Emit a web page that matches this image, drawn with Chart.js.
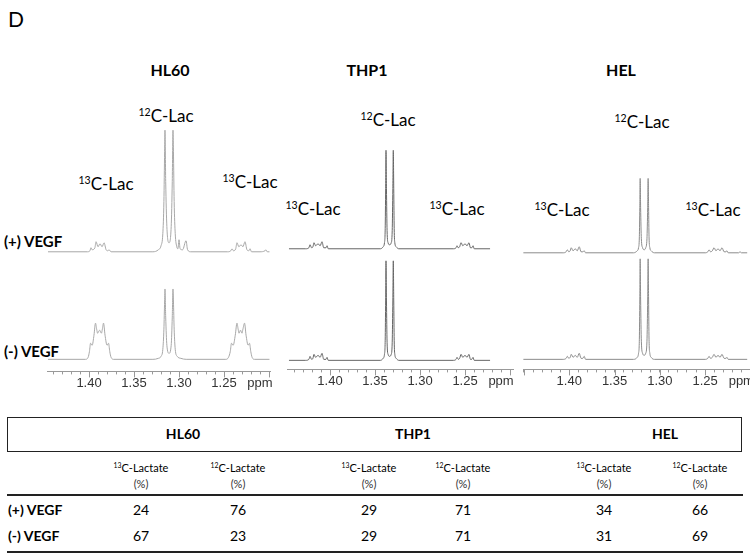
<!DOCTYPE html>
<html>
<head>
<meta charset="utf-8">
<script src="https://cdn.jsdelivr.net/npm/chart.js@4.4.0/dist/chart.umd.min.js"></script>
<style>
  body { margin: 0; width: 750px; height: 554px; position: relative; background: #fff; overflow: hidden;
         font-family: Lato, "Open Sans", sans-serif; color: #000; }
  .t { position: absolute; white-space: nowrap; line-height: 1; transform: translate(-50%, -50%); }
  .l { position: absolute; white-space: nowrap; line-height: 1; transform: translateY(-50%); }
  sup { font-size: 0.62em; vertical-align: 0.55em; line-height: 0; }
  canvas { position: absolute; }
  .title { font-weight: bold; font-size: 16px; }
  .lab { font-size: 17px; }
  .row { font-weight: bold; font-size: 15px; }
  .hline { position: absolute; left: 7px; width: 736px; background: #222; }
  .sub { font-size: 11px; }
  .pct { font-size: 11px; color: #333; }
  .num { font-size: 14px; }
</style>
</head>
<body>
<div class="l" style="left:8px;top:18px;font-size:21px;">D</div>

<div class="t title" style="left:170px;top:70px;">HL60</div>
<div class="t title" style="left:367px;top:70px;">THP1</div>
<div class="t title" style="left:621px;top:70px;">HEL</div>

<div class="t lab" style="left:166px;top:115px;"><sup>12</sup>C-Lac</div>
<div class="t lab" style="left:106px;top:183px;"><sup>13</sup>C-Lac</div>
<div class="t lab" style="left:250px;top:181px;"><sup>13</sup>C-Lac</div>
<div class="t lab" style="left:388px;top:119px;"><sup>12</sup>C-Lac</div>
<div class="t lab" style="left:313px;top:208px;"><sup>13</sup>C-Lac</div>
<div class="t lab" style="left:457px;top:208px;"><sup>13</sup>C-Lac</div>
<div class="t lab" style="left:642px;top:121px;"><sup>12</sup>C-Lac</div>
<div class="t lab" style="left:562px;top:209px;"><sup>13</sup>C-Lac</div>
<div class="t lab" style="left:713px;top:209px;"><sup>13</sup>C-Lac</div>

<div class="l row" style="left:4px;top:241px;">(+) VEGF</div>
<div class="l row" style="left:4px;top:351px;">(-) VEGF</div>

<canvas id="hl60" width="237" height="292" style="left:47px;top:100px;"></canvas>
<canvas id="thp1" width="240" height="292" style="left:287px;top:98px;"></canvas>
<canvas id="hel" width="241" height="292" style="left:523px;top:98px;"></canvas>

<div id="table"></div>

<script>
// NMR traces: [ppm, height above baseline in px]
const hl60Plus = [
  [1.4456, 0], [1.4020, 0], [1.3990, 1], [1.3978, 4], [1.3965, 2], [1.3935, 4], [1.3922, 10], [1.3900, 5],
  [1.3878, 8], [1.3855, 5], [1.3833, 9], [1.3810, 2], [1.3790, 1], [1.3778, 2], [1.3755, 0],
  [1.3290, 0], [1.3230, 2], [1.3200, 6], [1.3180, 18], [1.3168, 50], [1.3160, 100], [1.3156, 121],
  [1.3148, 70], [1.3135, 25], [1.3111, 9], [1.3087, 25], [1.3075, 70], [1.3067, 121], [1.3062, 100],
  [1.3054, 50], [1.3042, 18], [1.3025, 5], [1.3012, 3], [1.3000, 12], [1.2988, 3], [1.2960, 2],
  [1.2922, 11], [1.2905, 2], [1.2870, 0],
  [1.2460, 0], [1.2425, 1], [1.2411, 3], [1.2395, 1], [1.2370, 3], [1.2356, 9], [1.2335, 5], [1.2311, 7],
  [1.2290, 5], [1.2267, 10], [1.2245, 2], [1.2225, 1], [1.2211, 3], [1.2195, 0], [1.2100, 0],
  [1.2045, 1], [1.2033, 2], [1.2020, 0], [1.1995, 0]
];
const hl60Minus = [
  [1.4456, 0], [1.4040, 0], [1.4010, 2], [1.3995, 8], [1.3983, 16], [1.3965, 14], [1.3945, 24], [1.3928, 36],
  [1.3915, 30], [1.3905, 26], [1.3883, 29], [1.3862, 26], [1.3852, 30], [1.3839, 36], [1.3822, 24],
  [1.3800, 14], [1.3783, 16], [1.3770, 8], [1.3755, 2], [1.3725, 0],
  [1.3290, 0], [1.3230, 1], [1.3200, 3], [1.3180, 10], [1.3168, 30], [1.3160, 58], [1.3156, 70],
  [1.3148, 42], [1.3135, 14], [1.3111, 6], [1.3087, 14], [1.3075, 42], [1.3067, 70], [1.3062, 58],
  [1.3054, 30], [1.3042, 10], [1.3020, 3], [1.2980, 1], [1.2920, 0],
  [1.2480, 0], [1.2450, 2], [1.2430, 8], [1.2417, 16], [1.2398, 14], [1.2375, 24], [1.2356, 36],
  [1.2343, 30], [1.2333, 26], [1.2317, 29], [1.2300, 26], [1.2290, 30], [1.2272, 36], [1.2255, 24],
  [1.2232, 14], [1.2217, 16], [1.2203, 8], [1.2188, 2], [1.2160, 0], [1.1995, 0]
];
const thp1Plus = [
  [1.4456, 0], [1.4270, 0], [1.4235, 1], [1.4222, 4], [1.4205, 1], [1.4190, 2], [1.4178, 6], [1.4160, 3],
  [1.4133, 5], [1.4110, 3], [1.4089, 7], [1.4070, 1], [1.4045, 1], [1.4033, 3], [1.4020, 0],
  [1.3440, 0], [1.3410, 2], [1.3395, 6], [1.3387, 20], [1.3382, 60], [1.3378, 98], [1.3373, 60],
  [1.3366, 18], [1.3355, 6], [1.3338, 4], [1.3320, 6], [1.3309, 18], [1.3302, 60], [1.3297, 98],
  [1.3292, 60], [1.3287, 20], [1.3280, 6], [1.3265, 2], [1.3235, 0],
  [1.2630, 0], [1.2600, 1], [1.2589, 3], [1.2575, 1], [1.2560, 2], [1.2544, 6], [1.2525, 3], [1.2500, 5],
  [1.2478, 3], [1.2456, 6], [1.2440, 1], [1.2425, 1], [1.2411, 3], [1.2398, 0], [1.2222, 0]
];
const thp1Minus = [
  [1.4456, 0], [1.4270, 0], [1.4235, 1], [1.4222, 4], [1.4205, 1], [1.4190, 2], [1.4178, 6], [1.4160, 3],
  [1.4133, 5], [1.4110, 3], [1.4089, 7], [1.4070, 1], [1.4045, 1], [1.4033, 3], [1.4020, 0],
  [1.3440, 0], [1.3410, 2], [1.3395, 6], [1.3387, 20], [1.3382, 60], [1.3378, 99], [1.3373, 60],
  [1.3366, 18], [1.3355, 6], [1.3338, 4], [1.3320, 6], [1.3309, 18], [1.3302, 60], [1.3297, 99],
  [1.3292, 60], [1.3287, 20], [1.3280, 6], [1.3265, 2], [1.3235, 0],
  [1.2630, 0], [1.2600, 1], [1.2589, 3], [1.2575, 1], [1.2560, 2], [1.2544, 6], [1.2525, 3], [1.2500, 5],
  [1.2478, 3], [1.2456, 6], [1.2440, 1], [1.2425, 1], [1.2411, 3], [1.2398, 0], [1.2222, 0]
];
const helPlus = [
  [1.4507, 0], [1.4070, 0], [1.4035, 1], [1.4022, 3], [1.4005, 1], [1.3990, 2], [1.3978, 5], [1.3958, 2],
  [1.3934, 4], [1.3912, 2], [1.3890, 6], [1.3870, 1], [1.3850, 1], [1.3835, 2], [1.3820, 0],
  [1.3290, 0], [1.3250, 2], [1.3235, 5], [1.3226, 16], [1.3221, 45], [1.3217, 74], [1.3212, 45],
  [1.3204, 14], [1.3190, 5], [1.3173, 3], [1.3156, 5], [1.3142, 14], [1.3134, 45], [1.3129, 74],
  [1.3124, 45], [1.3119, 16], [1.3110, 5], [1.3095, 2], [1.3060, 0],
  [1.2500, 0], [1.2470, 1], [1.2456, 3], [1.2440, 1], [1.2420, 2], [1.2401, 5], [1.2380, 2], [1.2357, 4],
  [1.2335, 2], [1.2313, 5], [1.2290, 1], [1.2270, 1], [1.2258, 2], [1.2245, 0], [1.2130, 0],
  [1.2114, 1], [1.2098, 0], [1.2035, 0]
];
const helMinus = [
  [1.4507, 0], [1.4070, 0], [1.4035, 1], [1.4022, 3], [1.4005, 1], [1.3990, 2], [1.3978, 5], [1.3958, 2],
  [1.3934, 4], [1.3912, 2], [1.3890, 6], [1.3870, 1], [1.3850, 1], [1.3835, 3], [1.3820, 0],
  [1.3290, 0], [1.3250, 2], [1.3235, 6], [1.3226, 20], [1.3221, 60], [1.3217, 100], [1.3212, 60],
  [1.3204, 18], [1.3190, 6], [1.3173, 4], [1.3156, 6], [1.3142, 18], [1.3134, 60], [1.3129, 100],
  [1.3124, 60], [1.3119, 20], [1.3110, 6], [1.3095, 2], [1.3060, 0],
  [1.2500, 0], [1.2470, 1], [1.2456, 3], [1.2440, 1], [1.2420, 2], [1.2401, 5], [1.2380, 2], [1.2357, 4],
  [1.2335, 2], [1.2313, 5], [1.2290, 1], [1.2270, 1], [1.2258, 2], [1.2245, 0], [1.2035, 0]
];

// table values
const cellLines = ['HL60', 'THP1', 'HEL'];
const isotopes = ['13', '12', '13', '12', '13', '12'];
const plusVegf = [24, 76, 29, 71, 34, 66];
const minusVegf = [67, 23, 29, 71, 31, 69];

// longer marks at the labelled ppm ticks
const majorTicks = {
  id: 'majorTicks',
  afterDraw(chart) {
    const s = chart.scales.x, ctx = chart.ctx;
    ctx.save();
    ctx.strokeStyle = '#999';
    ctx.lineWidth = 1;
    s.ticks.forEach(t => {
      const k = Math.round(t.value * 100);
      if (k % 5 === 0) {
        const x = Math.round(s.getPixelForValue(t.value)) + 0.5;
        ctx.beginPath();
        ctx.moveTo(x, s.top);
        ctx.lineTo(x, s.top + 6);
        ctx.stroke();
      }
    });
    ctx.restore();
  }
};

function drawPanel(id, plus, minus, color, left, right, plusBase, minusBase) {
  const h = 270;
  new Chart(document.getElementById(id), {
    type: 'line',
    data: {
      datasets: [
        { data: plus.map(p => ({ x: p[0], y: p[1] })), yAxisID: 'yPlus' },
        { data: minus.map(p => ({ x: p[0], y: p[1] })), yAxisID: 'yMinus' }
      ]
    },
    options: {
      responsive: false,
      animation: false,
      layout: { padding: { left: 0, top: 0, bottom: 0, right: 14 } },
      elements: {
        line: { borderColor: color, borderWidth: 1, cubicInterpolationMode: 'monotone', fill: false },
        point: { radius: 0 }
      },
      plugins: { legend: { display: false }, tooltip: { enabled: false } },
      scales: {
        x: {
          type: 'linear', reverse: true, min: right, max: left,
          afterBuildTicks: s => {
            const t = [];
            for (let k = 120; k <= 145; k++) {
              if (k / 100 >= right && k / 100 <= left) t.push({ value: k / 100 });
            }
            s.ticks = t;
          },
          ticks: {
            autoSkip: false, maxRotation: 0, padding: 1, color: '#333',
            font: { family: 'Liberation Sans', size: 13 },
            callback: v => {
              const k = Math.round(v * 100);
              if (k % 5 === 0 && k >= 125 && k <= 140) return (k / 100).toFixed(2);
              return k === 121 ? 'ppm' : '';
            }
          },
          grid: { drawOnChartArea: false, tickLength: 3, color: '#999' },
          border: { color: '#999' }
        },
        yPlus: { display: false, min: -plusBase, max: h - plusBase },
        yMinus: { display: false, min: -minusBase, max: h - minusBase }
      }
    },
    plugins: [majorTicks]
  });
}

drawPanel('hl60', hl60Plus, hl60Minus, '#a8a8a8', 1.4467, 1.1989, 119, 12);
drawPanel('thp1', thp1Plus, thp1Minus, '#666666', 1.4478, 1.1967, 120, 9);
drawPanel('hel', helPlus, helMinus, '#8c8c8c', 1.4511, 1.2004, 116, 10);

// table
const tbl = document.getElementById('table');
const colX = [141, 238, 369, 463, 604, 700];
const headX = [183, 413, 665];
let html = '<div style="position:absolute;left:7px;top:417px;width:733px;height:33px;border:1.5px solid #222;"></div>';
cellLines.forEach((c, i) => {
  html += `<div class="t" style="left:${headX[i]}px;top:434px;font-weight:bold;font-size:14px;">${c}</div>`;
});
isotopes.forEach((iso, i) => {
  html += `<div class="t sub" style="left:${colX[i]}px;top:467px;"><sup>${iso}</sup>C-Lactate</div>`;
  html += `<div class="t pct" style="left:${colX[i]}px;top:483px;">(%)</div>`;
  html += `<div class="t num" style="left:${colX[i]}px;top:510px;">${plusVegf[i]}</div>`;
  html += `<div class="t num" style="left:${colX[i]}px;top:536px;">${minusVegf[i]}</div>`;
});
html += '<div class="hline" style="top:494px;height:2px;"></div>';
html += '<div class="hline" style="top:551px;height:2px;"></div>';
html += '<div class="l" style="left:8px;top:510px;font-weight:bold;font-size:14px;">(+) VEGF</div>';
html += '<div class="l" style="left:8px;top:536px;font-weight:bold;font-size:14px;">(-) VEGF</div>';
tbl.innerHTML = html;
</script>
</body>
</html>
